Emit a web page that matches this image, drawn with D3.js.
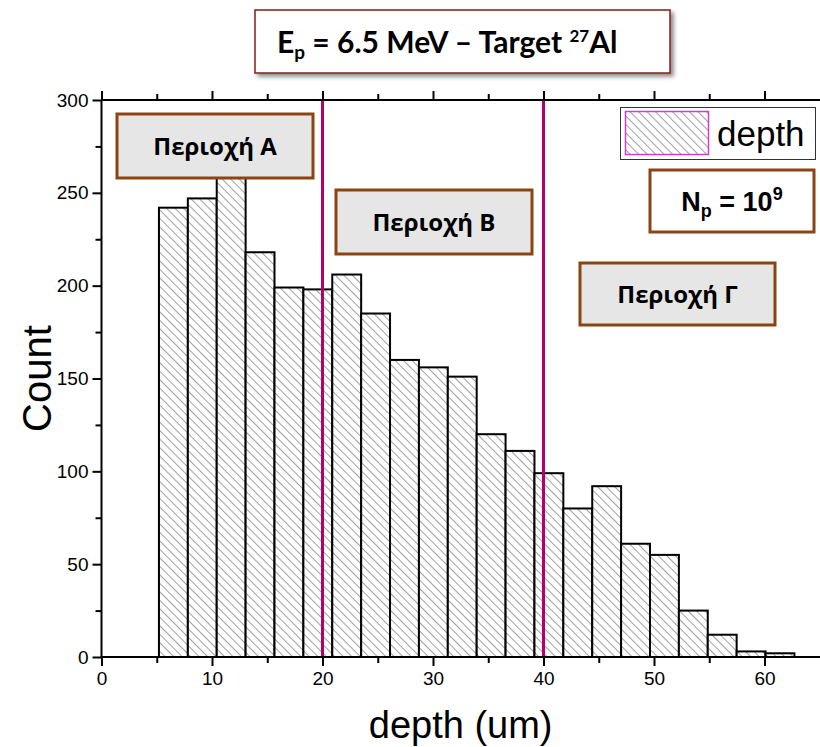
<!DOCTYPE html>
<html>
<head>
<meta charset="utf-8">
<script src="https://cdn.jsdelivr.net/npm/d3@7"></script>
<style>
  body { margin: 0; background: #fff; }
  svg { display: block; }
</style>
</head>
<body>
<svg id="chart" width="820" height="747"></svg>
<script>
// histogram of depth, bins start at 5.2 um with width ~2.61 um
const binStart = 5.2
const binWidth = 2.614
const counts = [242, 247, 262, 218, 199, 198, 206, 185, 160, 156, 151, 120, 111, 99, 80, 92, 61, 55, 25, 12, 3, 2]
const regionLines = [20, 40]
const xTicks = [0, 10, 20, 30, 40, 50, 60]
const yTicks = [0, 50, 100, 150, 200, 250, 300]
const regionLabels = ["Περιοχή Α", "Περιοχή Β", "Περιοχή Γ"]

const plotLeft = 101.5, plotRight = 820, plotTop = 100, plotBottom = 657

const svg = d3.select("#chart")

const x = d3.scaleLinear().domain([0, 65]).range([plotLeft, plotLeft + 65 * 11.05])
const y = d3.scaleLinear().domain([0, 300]).range([plotBottom, plotTop])

const defs = svg.append("defs")
const pat = defs.append("pattern")
  .attr("id", "hatch")
  .attr("patternUnits", "userSpaceOnUse")
  .attr("width", 6).attr("height", 6)
  .attr("patternTransform", "rotate(-45)")
pat.append("rect").attr("width", 6).attr("height", 6).attr("fill", "#fff")
pat.append("line")
  .attr("x1", 0).attr("y1", 0).attr("x2", 0).attr("y2", 6)
  .attr("stroke", "#444").attr("stroke-width", 1)

const shadow = defs.append("filter").attr("id", "shadow")
  .attr("x", "-10%").attr("y", "-10%").attr("width", "130%").attr("height", "150%")
shadow.append("feDropShadow")
  .attr("dx", 3).attr("dy", 3).attr("stdDeviation", 2)
  .attr("flood-color", "#000").attr("flood-opacity", 0.45)

// bars
const bins = counts.map((c, i) => ({ x0: binStart + i * binWidth, x1: binStart + (i + 1) * binWidth, n: c }))
svg.append("g").selectAll("rect")
  .data(bins)
  .enter().append("rect")
    .attr("x", d => x(d.x0))
    .attr("y", d => y(d.n))
    .attr("width", d => x(d.x1) - x(d.x0))
    .attr("height", d => y(0) - y(d.n))
    .attr("fill", "url(#hatch)")
    .attr("stroke", "#000")
    .attr("stroke-width", 2)

// region separators
svg.append("g").selectAll("line")
  .data(regionLines)
  .enter().append("line")
    .attr("x1", d => x(d)).attr("x2", d => x(d))
    .attr("y1", plotTop).attr("y2", plotBottom)
    .attr("stroke", "#b3006b")
    .attr("stroke-width", 3)

// axes
const tickFont = "'Liberation Sans', Arial, sans-serif"
const xAxis = d3.axisBottom(x).tickValues(xTicks).tickSize(9).tickPadding(6)
const gx = svg.append("g").attr("transform", `translate(0,${plotBottom})`).call(xAxis)
gx.select(".domain").attr("d", `M${plotLeft},0H${plotRight}`)
gx.selectAll("line").attr("stroke-width", 2)
gx.selectAll(".domain").attr("stroke-width", 2)
gx.selectAll("text").attr("font-size", 19).attr("font-family", tickFont).attr("fill", "#000")
const gxm = svg.append("g").attr("transform", `translate(0,${plotBottom})`)
  .call(d3.axisBottom(x).tickValues(d3.range(5, 65, 10)).tickSize(6).tickFormat(""))
gxm.select(".domain").remove()
gxm.selectAll("line").attr("stroke-width", 2)

const gt = svg.append("g").attr("transform", `translate(0,${plotTop})`)
  .call(d3.axisTop(x).tickValues(xTicks).tickSize(9).tickFormat(""))
gt.select(".domain").attr("d", `M${plotLeft},0H${plotRight}`).attr("stroke-width", 2)
gt.selectAll("line").attr("stroke-width", 2)
const gtm = svg.append("g").attr("transform", `translate(0,${plotTop})`)
  .call(d3.axisTop(x).tickValues(d3.range(5, 65, 10)).tickSize(6).tickFormat(""))
gtm.select(".domain").remove()
gtm.selectAll("line").attr("stroke-width", 2)

const gy = svg.append("g").attr("transform", `translate(${plotLeft},0)`)
  .call(d3.axisLeft(y).tickValues(yTicks).tickSize(9).tickPadding(4))
gy.select(".domain").attr("d", `M0,${plotTop}V${plotBottom}`).attr("stroke-width", 2)
gy.selectAll("line").attr("stroke-width", 2)
gy.selectAll("text").attr("font-size", 19).attr("font-family", tickFont).attr("fill", "#000")
const gym = svg.append("g").attr("transform", `translate(${plotLeft},0)`)
  .call(d3.axisLeft(y).tickValues(d3.range(25, 300, 50)).tickSize(6).tickFormat(""))
gym.select(".domain").remove()
gym.selectAll("line").attr("stroke-width", 2)

svg.append("text")
  .attr("x", x(32.5)).attr("y", 738)
  .attr("text-anchor", "middle")
  .attr("font-family", tickFont).attr("font-size", 38)
  .text("depth (um)")
svg.append("text")
  .attr("transform", `translate(51,${y(150)}) rotate(-90)`)
  .attr("text-anchor", "middle")
  .attr("font-family", tickFont).attr("font-size", 40)
  .text("Count")

// label boxes
const boxFont = "'Open Sans', 'Noto Sans', sans-serif"
const boxes = [
  { x: 117, y: 114, w: 196, h: 64, label: regionLabels[0] },
  { x: 336, y: 190, w: 196, h: 64, label: regionLabels[1] },
  { x: 580, y: 263, w: 195, h: 62, label: regionLabels[2] }
]
const bg = svg.append("g").selectAll("g").data(boxes).enter().append("g")
bg.append("rect")
  .attr("x", d => d.x).attr("y", d => d.y).attr("width", d => d.w).attr("height", d => d.h)
  .attr("fill", "#e6e6e6").attr("stroke", "#8b4513").attr("stroke-width", 3)
bg.append("text")
  .attr("x", d => d.x + d.w / 2).attr("y", d => d.y + d.h / 2 + 9)
  .attr("text-anchor", "middle")
  .attr("font-family", boxFont).attr("font-weight", "bold").attr("font-size", 24)
  .text(d => d.label)

// Np box
svg.append("rect")
  .attr("x", 650).attr("y", 170).attr("width", 164).attr("height", 62)
  .attr("fill", "#fff").attr("stroke", "#8b4513").attr("stroke-width", 3)
const np = svg.append("text")
  .attr("x", 732).attr("y", 211)
  .attr("text-anchor", "middle")
  .attr("font-family", tickFont).attr("font-weight", "bold").attr("font-size", 27)
np.append("tspan").text("N")
np.append("tspan").attr("font-size", 18).attr("dy", 6).text("p")
np.append("tspan").attr("dy", -6).text(" = 10")
np.append("tspan").attr("font-size", 18).attr("dy", -11).text("9")

// legend
svg.append("rect")
  .attr("x", 620.5).attr("y", 107.5).attr("width", 195).attr("height", 52)
  .attr("fill", "#fff").attr("stroke", "#333").attr("stroke-width", 1)
svg.append("rect")
  .attr("x", 625.5).attr("y", 111.5).attr("width", 83).attr("height", 43)
  .attr("fill", "url(#hatch)").attr("stroke", "#d040d0").attr("stroke-width", 1.5)
svg.append("text")
  .attr("x", 717).attr("y", 146)
  .attr("font-family", tickFont).attr("font-size", 35)
  .text("depth")

// title box
svg.append("rect")
  .attr("x", 255).attr("y", 10).attr("width", 415).attr("height", 63)
  .attr("fill", "#fff").attr("stroke", "#8b1a1a").attr("stroke-width", 1.5)
  .attr("filter", "url(#shadow)")
const title = svg.append("text")
  .attr("x", 277).attr("y", 53)
  .attr("font-family", "Lato, 'Open Sans', sans-serif").attr("font-weight", "bold").attr("font-size", 30)
title.append("tspan").text("E")
title.append("tspan").attr("font-size", 19).attr("dy", 6).text("p")
title.append("tspan").attr("dy", -6).text(" = 6.5 MeV – Target ")
title.append("tspan").attr("font-size", 17).attr("dy", -11).text("27")
title.append("tspan").attr("dy", 11).text("Al")
</script>
</body>
</html>
